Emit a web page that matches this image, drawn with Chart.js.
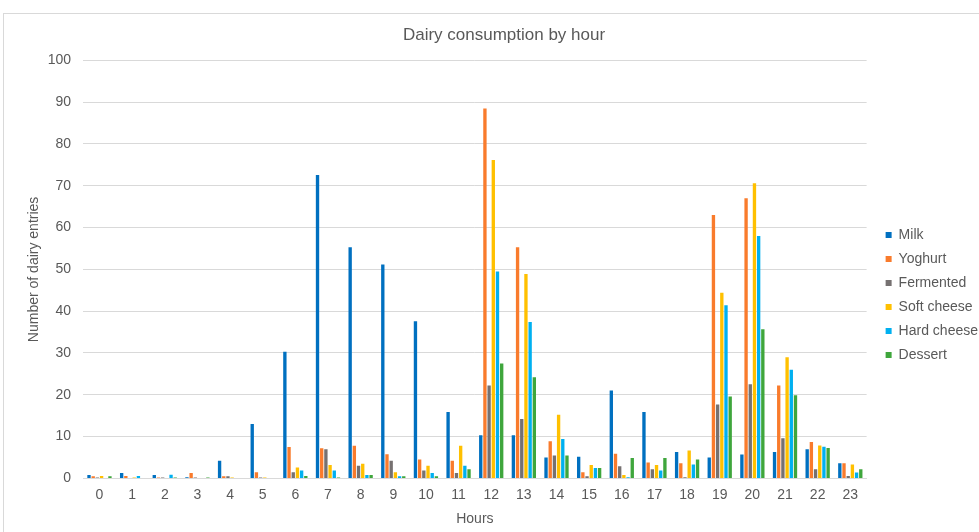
<!DOCTYPE html>
<html>
<head>
<meta charset="utf-8">
<script src="https://cdn.jsdelivr.net/npm/chart.js@4/dist/chart.umd.min.js"></script>
<style>
  html, body { margin: 0; padding: 0; background: #ffffff; }
  #wrap { position: relative; width: 979px; height: 532px; }
  canvas { display: block; }
</style>
</head>
<body>
<div id="wrap"><canvas id="chart" width="979" height="532"></canvas></div>
<script>
// Hour of day (x axis categories)
const hours = ['0','1','2','3','4','5','6','7','8','9','10','11','12','13','14','15','16','17','18','19','20','21','22','23'];

// Number of dairy entries per hour, one array per product type
const milk        = [0.8, 1.3, 0.8, 0.3, 4.2, 13.0, 30.3, 72.6, 55.3, 51.2, 37.6, 15.9, 10.3, 10.3, 5.0, 5.2, 21.0, 15.9, 6.3, 5.0, 5.7, 6.3, 7.0, 3.6];
const yoghurt     = [0.5, 0.6, 0.2, 1.3, 0.5, 1.5, 7.5, 7.2, 7.8, 5.8, 4.5, 4.2, 88.5, 55.3, 8.9, 1.5, 5.9, 3.8, 3.6, 63.0, 67.0, 22.2, 8.7, 3.6];
const fermented   = [0.2, 0, 0.2, 0.2, 0.5, 0.2, 1.5, 7.0, 3.0, 4.2, 1.9, 1.3, 22.2, 14.2, 5.5, 0.5, 2.9, 2.2, 0.3, 17.7, 22.5, 9.6, 2.2, 0.6];
const softCheese  = [0.6, 0.2, 0, 0, 0.2, 0.2, 2.6, 3.2, 3.5, 1.5, 3.0, 7.8, 76.2, 48.9, 15.2, 3.2, 0.8, 3.2, 6.7, 44.4, 70.6, 29.0, 7.9, 3.3];
const hardCheese  = [0, 0.6, 0.9, 0, 0, 0, 1.9, 1.9, 0.8, 0.5, 1.3, 3.0, 49.5, 37.4, 9.4, 2.5, 0.3, 1.9, 3.3, 41.4, 58.0, 26.0, 7.6, 1.4];
const dessert     = [0.5, 0, 0.2, 0.2, 0, 0, 0.6, 0.2, 0.8, 0.5, 0.5, 2.2, 27.5, 24.2, 5.5, 2.5, 4.9, 4.9, 4.5, 19.6, 35.7, 19.9, 7.3, 2.2];

// Y axis range and step
const yMin = 0;
const yMax = 100;
const yStep = 10;

const textColor = '#595959';
const fontFamily = '"Liberation Sans", Arial, sans-serif';

// Thin light frame around the chart object
const framePlugin = {
  id: 'frame',
  beforeDraw(chart) {
    const ctx = chart.ctx;
    ctx.save();
    ctx.fillStyle = '#ffffff';
    ctx.fillRect(0, 0, chart.width, chart.height);
    ctx.strokeStyle = '#d9d9d9';
    ctx.lineWidth = 1;
    ctx.strokeRect(3.5, 13.5, chart.width + 10, chart.height + 10);
    ctx.restore();
  }
};

const series = [
  { label: 'Milk',        data: milk,       color: '#0070C0' },
  { label: 'Yoghurt',     data: yoghurt,    color: '#F97B2C' },
  { label: 'Fermented',   data: fermented,  color: '#767171' },
  { label: 'Soft cheese', data: softCheese, color: '#FFC000' },
  { label: 'Hard cheese', data: hardCheese, color: '#00B0F0' },
  { label: 'Dessert',     data: dessert,    color: '#3FA63C' }
];

new Chart(document.getElementById('chart'), {
  type: 'bar',
  data: {
    labels: hours,
    datasets: series.map(s => ({
      label: s.label,
      data: s.data,
      backgroundColor: s.color,
      borderWidth: 0,
      categoryPercentage: 0.77,
      barPercentage: 0.8
    }))
  },
  options: {
    responsive: false,
    animation: false,
    devicePixelRatio: 1,
    layout: { padding: { left: 20, right: -9, top: 0, bottom: 0 } },
    plugins: {
      title: {
        display: true,
        text: 'Dairy consumption by hour',
        color: textColor,
        font: { family: fontFamily, size: 17, weight: 'normal' },
        padding: { top: 25, bottom: 15 }
      },
      legend: {
        position: 'right',
        // blank legend heading, used only to push the entries lower
        title: {
          display: true,
          text: ' ',
          font: { family: fontFamily, size: 10 },
          padding: { top: 46, bottom: 0 }
        },
        labels: {
          color: textColor,
          font: { family: fontFamily, size: 14 },
          boxWidth: 6,
          boxHeight: 6,
          padding: 10
        }
      },
      tooltip: { enabled: false }
    },
    scales: {
      x: {
        grid: { display: false, drawTicks: false },
        border: { display: true, color: '#d9d9d9', width: 1 },
        ticks: { color: textColor, font: { family: fontFamily, size: 14 }, padding: 8, maxRotation: 0 },
        title: {
          display: true,
          text: 'Hours',
          color: textColor,
          font: { family: fontFamily, size: 14 },
          padding: { top: 0, bottom: 4 }
        }
      },
      y: {
        min: yMin,
        max: yMax,
        grid: { color: '#d9d9d9', drawTicks: false },
        border: { display: false },
        ticks: { stepSize: yStep, color: textColor, font: { family: fontFamily, size: 14 }, padding: 12 },
        title: {
          display: true,
          text: 'Number of dairy entries',
          color: textColor,
          font: { family: fontFamily, size: 14 },
          padding: { top: 6, bottom: -7 }
        }
      },
      // narrow empty strip between plot area and legend
      gap: {
        position: 'right',
        display: true,
        grid: { display: false },
        border: { display: false },
        ticks: { display: false },
        afterFit(scale) { scale.width = 9; }
      }
    }
  },
  plugins: [framePlugin]
});
</script>
</body>
</html>
